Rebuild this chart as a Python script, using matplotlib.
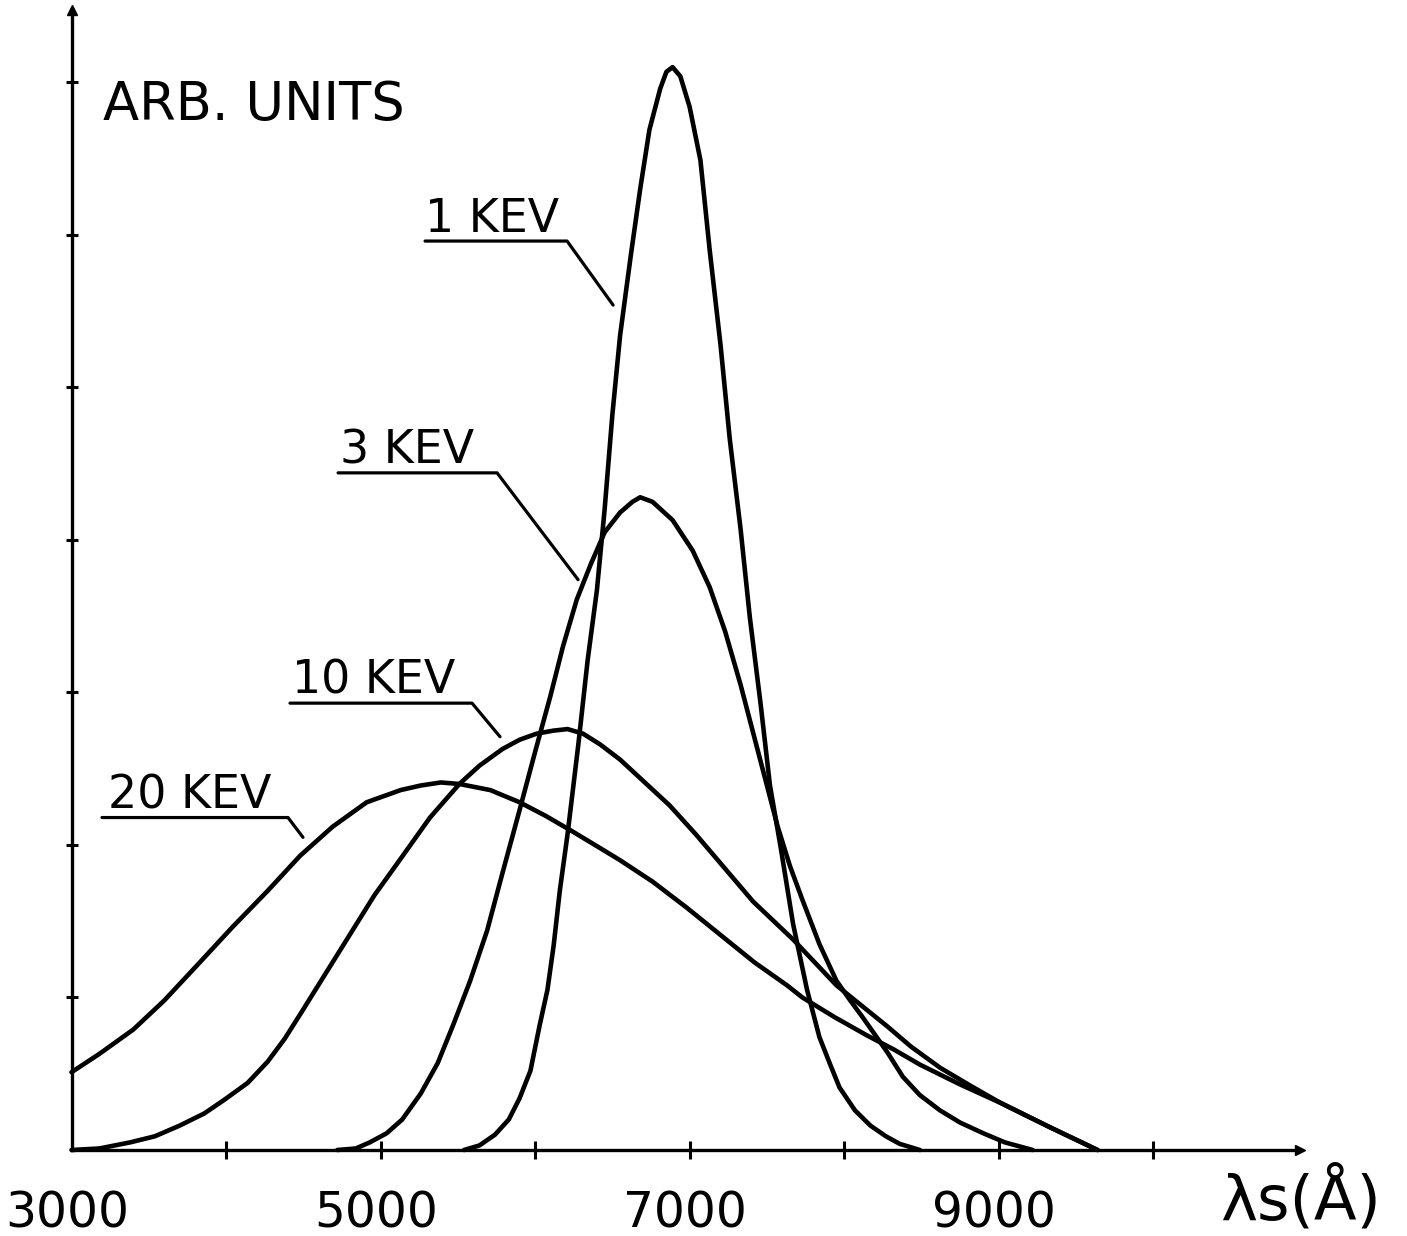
import matplotlib
matplotlib.use("Agg")
import matplotlib.pyplot as plt

# emission spectra, wavelength in angstrom vs intensity in arbitrary units
wl_1kev = [5540, 5640, 5740, 5830, 5900, 5970, 6030, 6080, 6120, 6160, 6210, 6280,
           6340, 6400, 6450, 6500, 6550, 6620, 6680, 6740, 6810, 6850, 6890, 6940,
           7000, 7070, 7130, 7200, 7260, 7330, 7390, 7460, 7520, 7590, 7670, 7760,
           7840, 7910, 7970, 8070, 8170, 8270, 8360, 8490]
int_1kev = [0.0, 0.03, 0.10, 0.20, 0.34, 0.52, 0.82, 1.05, 1.34, 1.70, 2.07, 2.66,
            3.21, 3.67, 4.20, 4.82, 5.34, 5.87, 6.30, 6.69, 6.96, 7.07, 7.10, 7.04,
            6.84, 6.49, 5.90, 5.28, 4.66, 4.07, 3.49, 2.92, 2.39, 1.98, 1.48, 1.05,
            0.74, 0.56, 0.41, 0.26, 0.16, 0.09, 0.04, 0.0]

wl_3kev = [4720, 4840, 4930, 5040, 5140, 5260, 5370, 5470, 5580, 5690, 5790, 5900,
           6000, 6100, 6180, 6270, 6360, 6450, 6550, 6630, 6680, 6760, 6890, 7020,
           7130, 7230, 7330, 7410, 7490, 7570, 7650, 7730, 7840, 7950, 8040, 8120,
           8280, 8380, 8490, 8620, 8750, 8900, 9040, 9220]
int_3kev = [0.0, 0.01, 0.05, 0.11, 0.20, 0.37, 0.57, 0.82, 1.11, 1.44, 1.82, 2.23,
            2.61, 2.98, 3.30, 3.61, 3.84, 4.05, 4.18, 4.25, 4.28, 4.25, 4.13, 3.93,
            3.69, 3.40, 3.05, 2.74, 2.43, 2.12, 1.86, 1.64, 1.35, 1.11, 0.98, 0.87,
            0.64, 0.48, 0.36, 0.26, 0.18, 0.11, 0.05, 0.0]

wl_10kev = [3000, 3180, 3380, 3540, 3700, 3860, 3990, 4140, 4270, 4380, 4480, 4640,
            4800, 4960, 5130, 5320, 5510, 5640, 5790, 5900, 6010, 6120, 6210, 6310,
            6420, 6550, 6710, 6870, 7040, 7200, 7410, 7670, 7950, 8280, 8430, 8620,
            8820, 9010, 9330, 9640]
int_10kev = [0.0, 0.01, 0.05, 0.09, 0.16, 0.24, 0.33, 0.44, 0.58, 0.73, 0.89, 1.15,
             1.41, 1.67, 1.91, 2.18, 2.40, 2.52, 2.63, 2.69, 2.73, 2.75, 2.76, 2.73,
             2.66, 2.56, 2.41, 2.26, 2.07, 1.88, 1.63, 1.38, 1.08, 0.81, 0.68, 0.54,
             0.42, 0.31, 0.15, 0.0]

wl_20kev = [3000, 3180, 3400, 3600, 3830, 4040, 4270, 4480, 4690, 4910, 5130, 5260,
            5390, 5510, 5710, 5900, 6070, 6240, 6420, 6550, 6760, 6980, 7200, 7420,
            7630, 7730, 7940, 8150, 8320, 8490, 8750, 9010, 9330, 9640]
int_20kev = [0.51, 0.63, 0.79, 0.98, 1.23, 1.46, 1.70, 1.93, 2.12, 2.28, 2.36, 2.39,
             2.41, 2.40, 2.36, 2.28, 2.19, 2.09, 1.98, 1.90, 1.76, 1.59, 1.41, 1.23,
             1.08, 1.00, 0.87, 0.75, 0.66, 0.56, 0.43, 0.31, 0.15, 0.0]

curve_labels = ["1 KEV", "3 KEV", "10 KEV", "20 KEV"]
x_tick_values = [3000, 5000, 7000, 9000]
x_minor = [4000, 5000, 6000, 7000, 8000, 9000, 10000]
y_ticks = [1, 2, 3, 4, 5, 6, 7]

W, H = 1407, 1236
fig = plt.figure(figsize=(W / 100, H / 100), dpi=100)
ax = fig.add_axes([71.5 / W, 86 / H, (1300 - 71.5) / W, (1150 - 10) / H])

xmax = 10950
ymax = 7.475
ax.set_xlim(3000, xmax)
ax.set_ylim(0, ymax)

for s in ("top", "right"):
    ax.spines[s].set_visible(False)
for s in ("left", "bottom"):
    ax.spines[s].set_linewidth(2.4)

ax.set_xticks(x_minor)
ax.set_yticks(y_ticks)
ax.set_xticklabels([])
ax.set_yticklabels([])
ax.tick_params(axis="x", direction="inout", length=13, width=2.2)
ax.tick_params(axis="y", direction="inout", length=9, width=2.2)

# arrow tips at the ends of both axes
ax.plot([xmax], [0], marker=">", ms=7, color="k", clip_on=False)
ax.plot([3000], [ymax], marker="^", ms=7, color="k", clip_on=False)

series = [(wl_1kev, int_1kev), (wl_3kev, int_3kev),
          (wl_10kev, int_10kev), (wl_20kev, int_20kev)]
for wl, it in series:
    ax.plot(wl, it, color="k", lw=3.3, solid_joinstyle="round",
            solid_capstyle="round", clip_on=False)

# curve labels: text, underline and a leader to the curve
label_pos = {
    "1 KEV": dict(text=(5290, 6.02), line=[(5288, 5.96), (6207, 5.96), (6505, 5.54)]),
    "3 KEV": dict(text=(4740, 4.50), line=[(4725, 4.44), (5754, 4.44), (6278, 3.74)]),
    "10 KEV": dict(text=(4430, 2.99), line=[(4414, 2.93), (5592, 2.93), (5773, 2.71)]),
    "20 KEV": dict(text=(3236, 2.24), line=[(3197, 2.18), (4401, 2.18), (4498, 2.05)]),
}
for name in curve_labels:
    p = label_pos[name]
    ax.text(p["text"][0], p["text"][1], name, fontsize=33, ha="left",
            va="baseline", color="k")
    xs, ys = zip(*p["line"])
    ax.plot(xs, ys, color="k", lw=2.3, solid_capstyle="round")

# x tick labels
for v in x_tick_values:
    ax.text(v - 30, -0.505, str(v), fontsize=35, ha="center", va="baseline",
            clip_on=False)

fig.text(103 / W, 1 - 120 / H, "ARB. UNITS", fontsize=38, ha="left",
         va="baseline")
fig.text(1220 / W, 1 - 1220 / H, "λs(Å)", fontsize=45, ha="left",
         va="baseline")

fig.savefig("out.png", dpi=100, facecolor="white")
